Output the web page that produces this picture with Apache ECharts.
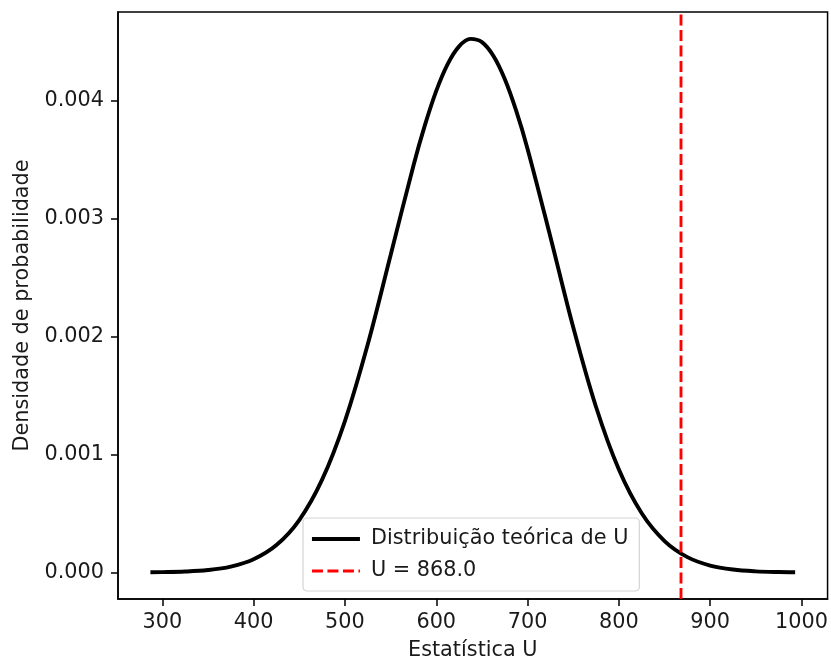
<!DOCTYPE html>
<html>
<head>
<meta charset="utf-8">
<script src="https://cdn.jsdelivr.net/npm/echarts@6/dist/echarts.min.js"></script>
<style>
  html, body { margin: 0; padding: 0; background: #fff; }
  #chart { width: 831px; height: 666px; }
</style>
</head>
<body>
<div id="chart"></div>
<script>
// Theoretical density of the U statistic (values sampled along the curve)
const uValues = [287, 300, 325, 350, 375, 400, 425, 450, 475, 500, 525, 550, 575, 587.5, 600,
                 612.5, 625, 637.5, 650, 662.5, 675, 687.5, 700, 725, 750, 775, 800, 825, 850,
                 875, 900, 925, 950, 975, 993];
const density = [0.0000015, 0.0000027, 0.0000077, 0.0000203, 0.0000495, 0.0001116, 0.0002318,
                 0.000444, 0.000786, 0.001283, 0.001933, 0.002688, 0.003447, 0.003788, 0.004081,
                 0.004308, 0.004458, 0.004521, 0.004494, 0.004378, 0.004181, 0.003913, 0.003589,
                 0.002843, 0.002078, 0.001402, 0.000872, 0.000501, 0.000266, 0.000130, 0.0000587,
                 0.0000245, 0.0000094, 0.0000033, 0.0000015];
// Observed statistic
const observedU = 868.0;
// Axis ranges and tick labels
const xRange = [251.5, 1028.5];
const yRange = [-0.000225, 0.004749];
const xTicks = [300, 400, 500, 600, 700, 800, 900, 1000];
const yTicks = [0, 0.001, 0.002, 0.003, 0.004];

const font = 'DejaVu Sans';
const fs = 20.8;
const textColor = '#1a1a1a';
const curveWidth = 3.9;
const obsWidth = 2.9;
const obsDash = [11, 4.5];

const curveName = 'Distribuição teórica de U';
const obsName = 'U = ' + observedU.toFixed(1);
const curve = uValues.map((u, i) => [u, density[i]]);
const obsLine = [[observedU, yRange[0]], [observedU, yRange[1]]];

const chart = echarts.init(document.getElementById('chart'), null, { renderer: 'canvas' });
chart.setOption({
  animation: false,
  backgroundColor: '#fff',
  textStyle: { fontFamily: font },
  grid: {
    left: 118, top: 12, right: 1, bottom: 65,
    show: true, borderColor: '#000', borderWidth: 1.5, backgroundColor: 'transparent'
  },
  xAxis: {
    type: 'value',
    min: xRange[0], max: xRange[1],
    name: 'Estatística U',
    nameLocation: 'middle',
    nameGap: 41,
    nameTextStyle: { fontFamily: font, fontSize: fs, color: textColor },
    axisLine: { show: true, onZero: false, lineStyle: { color: '#000', width: 1.5 } },
    axisTick: { show: true, length: 7, customValues: xTicks, lineStyle: { color: '#000', width: 1.5 } },
    axisLabel: {
      customValues: xTicks, margin: 13, fontFamily: font, fontSize: fs, color: textColor,
      formatter: v => String(Math.round(v))
    },
    splitLine: { show: false }
  },
  yAxis: {
    type: 'value',
    min: yRange[0], max: yRange[1],
    name: 'Densidade de probabilidade',
    nameLocation: 'middle',
    nameGap: 84,
    nameTextStyle: { fontFamily: font, fontSize: fs, color: textColor },
    axisLine: { show: true, onZero: false, lineStyle: { color: '#000', width: 1.5 } },
    axisTick: { show: true, length: 7, customValues: yTicks, lineStyle: { color: '#000', width: 1.5 } },
    axisLabel: {
      customValues: yTicks, margin: 14, fontFamily: font, fontSize: fs, color: textColor,
      formatter: v => v.toFixed(3)
    },
    splitLine: { show: false }
  },
  legend: {
    orient: 'vertical',
    left: 303, top: 518,
    padding: [10, 11, 9, 7],
    itemWidth: 48, itemHeight: 22, itemGap: 10,
    backgroundColor: 'rgba(255,255,255,0.8)',
    borderColor: '#d4d4d4', borderWidth: 1.2, borderRadius: 4,
    itemStyle: { opacity: 0 },
    textStyle: { fontFamily: font, fontSize: fs, color: textColor, lineHeight: 22, padding: [0, 0, 0, 6] },
    data: [
      { name: curveName, lineStyle: { color: '#000', width: curveWidth } },
      { name: obsName, lineStyle: { color: '#ff0000', width: obsWidth, type: obsDash } }
    ]
  },
  series: [
    {
      name: curveName,
      type: 'line',
      data: curve,
      smooth: 0.35,
      symbol: 'none',
      clip: true,
      lineStyle: { color: '#000', width: curveWidth },
      itemStyle: { color: '#000' },
      z: 2
    },
    {
      name: obsName,
      type: 'line',
      data: obsLine,
      symbol: 'none',
      clip: true,
      lineStyle: { color: '#ff0000', width: obsWidth, type: obsDash },
      itemStyle: { color: '#ff0000' },
      z: 3
    }
  ]
});
</script>
</body>
</html>
